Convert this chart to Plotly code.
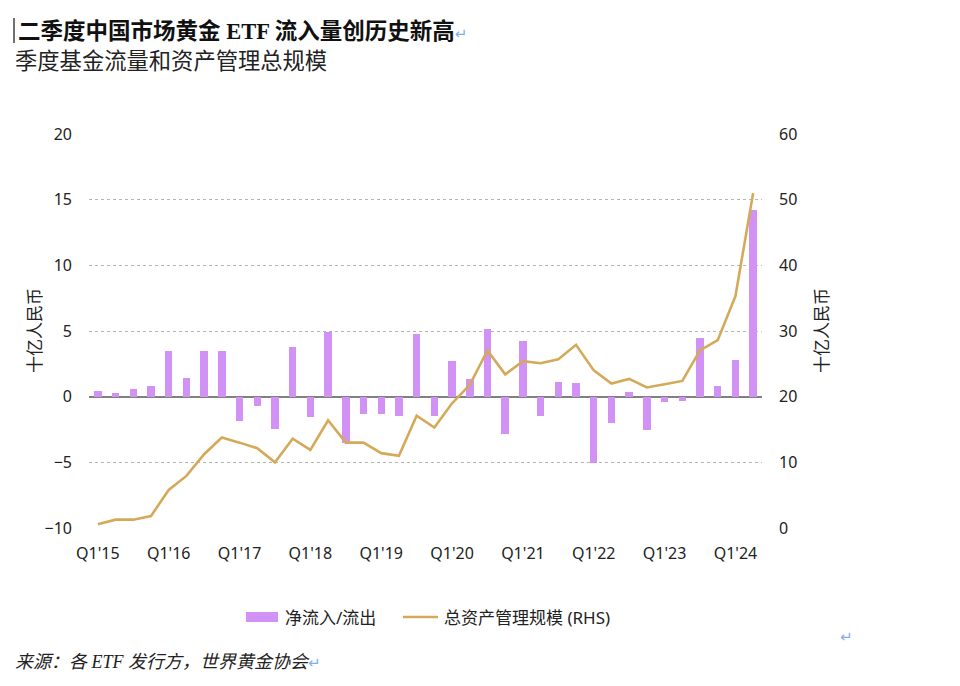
import plotly.graph_objects as go

# ---------------- data ----------------
quarters = [f"Q{q}'{y}" for y in range(15, 25) for q in range(1, 5)][:38]

net_flows = [
    0.4, 0.3, 0.6, 0.8,
    3.45, 1.4, 3.45, 3.45,
    -1.83, -0.69, -2.46, 3.8,
    -1.57, 4.9, -3.5, -1.32,
    -1.32, -1.5, 4.75, -1.5,
    2.74, 1.35, 5.13, -2.84,
    4.24, -1.5, 1.14, 1.07,
    -5.03, -2.0, 0.33, -2.51,
    -0.38, -0.3, 4.44, 0.84,
    2.79, 14.2,
]

total_aum = [
    0.56, 1.27, 1.27, 1.83,
    5.8, 7.93, 11.24, 13.78,
    13.0, 12.15, 10.0, 13.6,
    11.9, 16.4, 13.0, 13.0,
    11.4, 11.0, 17.1, 15.3,
    19.0, 21.8, 27.05, 23.4,
    25.4, 25.1, 25.7, 27.9,
    24.0, 22.0, 22.7, 21.4,
    21.9, 22.4, 27.05, 28.6,
    35.3, 51.0,
]

tick_labels = ["Q1'15", "Q1'16", "Q1'17", "Q1'18", "Q1'19",
               "Q1'20", "Q1'21", "Q1'22", "Q1'23", "Q1'24"]

left_ticks = [-10, -5, 0, 5, 10, 15, 20]
right_ticks = [0, 10, 20, 30, 40, 50, 60]

bar_name = "净流入/流出"
line_name = "总资产管理规模 (RHS)"

# ---------------- figure ----------------
x_idx = list(range(len(quarters)))
tick_pos = [quarters.index(t) for t in tick_labels]

BAR_COLOR = "#d291f5"
LINE_COLOR = "#d4aa5a"
TXT = "#222222"
MARK = "#7fb0ee"
FONT = "Noto Sans, Noto Sans CJK SC, sans-serif"

# page offset (body margin) compensation: plot area is 89..762 x 134..528 on page
OFF = 8
PL, PR, PT, PB = 89, 762, 134, 528
W, H = 960 - OFF, 686 - OFF

fig = go.Figure()
fig.add_trace(go.Bar(
    x=x_idx, y=net_flows, name=bar_name,
    marker=dict(color=BAR_COLOR, line=dict(width=0)),
    width=0.42, yaxis="y",
))
fig.add_trace(go.Scatter(
    x=x_idx, y=total_aum, name=line_name,
    mode="lines", line=dict(color=LINE_COLOR, width=2.6),
    yaxis="y2",
))

fig.update_layout(
    width=W, height=H,
    paper_bgcolor="white", plot_bgcolor="white",
    margin=dict(l=PL - OFF, r=W - (PR - OFF), t=PT - OFF, b=H - (PB - OFF)),
    font=dict(family=FONT, size=16, color=TXT),
    showlegend=False,
    xaxis=dict(
        range=[-0.5, len(quarters) - 0.5],
        tickmode="array", tickvals=tick_pos, ticktext=tick_labels,
        showgrid=False, zeroline=False, showline=False,
        ticks="", ticklabelstandoff=14,
        tickfont=dict(size=16, color=TXT),
    ),
    yaxis=dict(
        range=[-10, 20], tickmode="array", tickvals=left_ticks,
        showgrid=True, gridcolor="#b5b5b5", griddash="dot", gridwidth=1,
        zeroline=True, zerolinecolor="#808080", zerolinewidth=1.6,
        showline=False, ticks="", ticklabelstandoff=16,
        tickfont=dict(size=16, color=TXT),
    ),
    yaxis2=dict(
        range=[0, 60], tickmode="array", tickvals=right_ticks,
        overlaying="y", side="right",
        showgrid=False, zeroline=False, showline=False,
        ticks="", ticklabelstandoff=16,
        tickfont=dict(size=16, color=TXT),
    ),
    bargap=0,
)


def px_x(px):
    return (px - PL) / float(PR - PL)


def px_y(py):
    return (PB - py) / float(PB - PT)


mark_span = f'<span style="color:{MARK};font-family:DejaVu Sans;font-size:15px">↵</span>'

ann = [
    dict(text="<b>二季度中国市场黄金 ETF 流入量创历史新高</b>" + mark_span,
         x=px_x(16), y=px_y(31), xanchor="left", yanchor="middle",
         font=dict(size=22.5, color="#111111",
                   family="Liberation Serif, Noto Sans CJK SC, serif")),
    dict(text="季度基金流量和资产管理总规模",
         x=px_x(13), y=px_y(59), xanchor="left", yanchor="middle",
         font=dict(size=22.3, color="#222222", family="Noto Sans CJK SC")),
    dict(text="十亿人民币", x=px_x(33), y=px_y(331), xanchor="center",
         yanchor="middle", textangle=-90,
         font=dict(size=17, color=TXT, family="Noto Sans CJK SC")),
    dict(text="十亿人民币", x=px_x(820), y=px_y(331), xanchor="center",
         yanchor="middle", textangle=-90,
         font=dict(size=17, color=TXT, family="Noto Sans CJK SC")),
    dict(text="<i>来源：各 ETF 发行方，世界黄金协会</i>" + mark_span,
         x=px_x(13), y=px_y(662), xanchor="left", yanchor="middle",
         font=dict(size=18, color="#222222",
                   family="Liberation Serif, Noto Sans CJK SC, serif")),
    dict(text="↵", x=px_x(838), y=px_y(637), xanchor="left", yanchor="middle",
         font=dict(size=15, color=MARK, family="DejaVu Sans")),
    # legend labels
    dict(text=bar_name, x=px_x(283), y=px_y(617), xanchor="left", yanchor="middle",
         font=dict(size=17, color=TXT, family=FONT)),
    dict(text=line_name, x=px_x(442), y=px_y(617), xanchor="left", yanchor="middle",
         font=dict(size=17, color=TXT, family=FONT)),
]
for a in ann:
    a.update(xref="paper", yref="paper", showarrow=False)

fig.update_layout(annotations=ann)

# legend swatches
fig.add_shape(type="rect", xref="paper", yref="paper",
              x0=px_x(246), x1=px_x(278), y0=px_y(622), y1=px_y(612),
              fillcolor=BAR_COLOR, line=dict(width=0))
fig.add_shape(type="line", xref="paper", yref="paper",
              x0=px_x(403), x1=px_x(438), y0=px_y(617), y1=px_y(617),
              line=dict(color=LINE_COLOR, width=2.6))

# text cursor before the title
fig.add_shape(type="line", xref="paper", yref="paper",
              x0=px_x(14), x1=px_x(14), y0=px_y(18), y1=px_y(43),
              line=dict(color="#111111", width=1.2))

fig.write_html("out.html")
